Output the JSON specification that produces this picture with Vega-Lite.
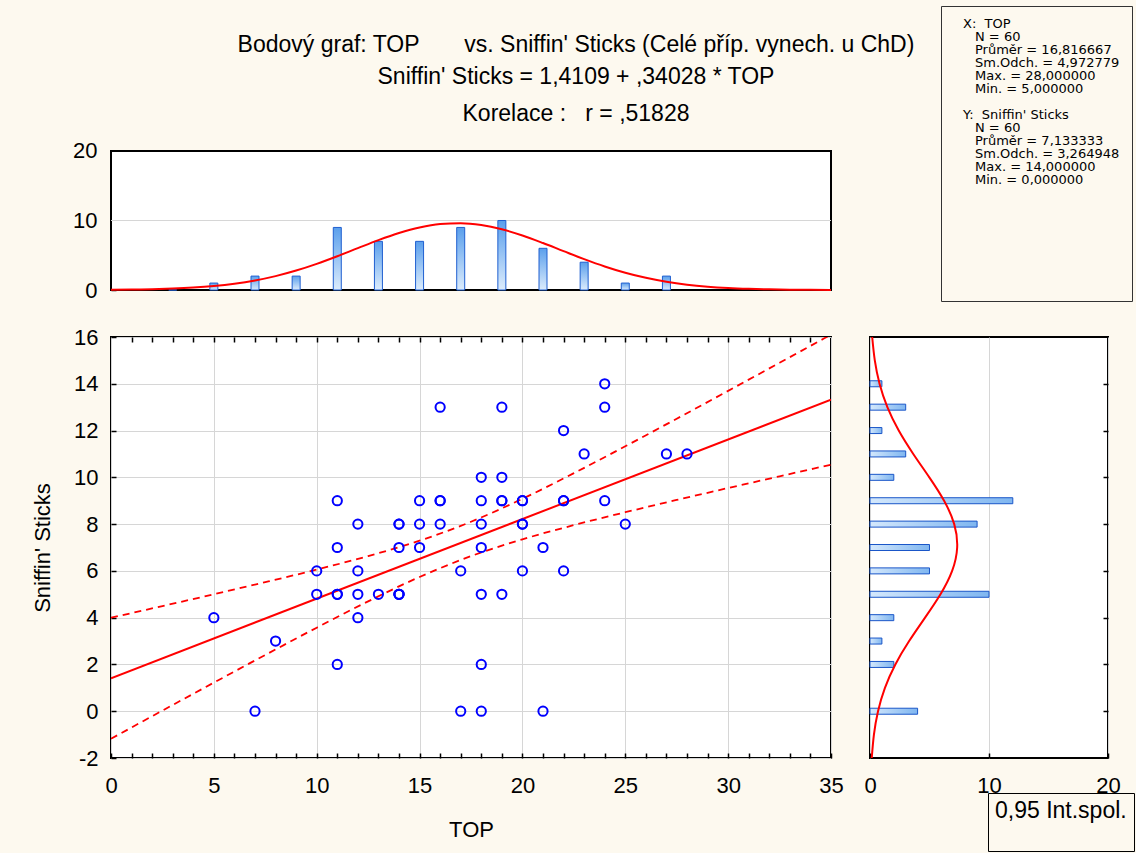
{
  "$schema": "https://vega.github.io/schema/vega-lite/v6.json",
  "background": "#fdf9ef",
  "padding": {"left": 30, "top": 5, "right": 0, "bottom": 0},
  "config": {
    "font": "Liberation Sans",
    "axis": {
      "labelFont": "Liberation Sans", "labelFontSize": 22, "labelColor": "#000", "labelFlush": false,
      "titleFont": "Liberation Sans", "titleFontSize": 22, "titleFontWeight": "normal", "titleColor": "#000",
      "domainColor": "#000", "domainWidth": 2, "tickColor": "#000", "tickWidth": 1.5,
      "gridColor": "#d6d6d6", "gridWidth": 1
    },
    "view": {"fill": "white", "stroke": "#000", "strokeWidth": 2},
    "legend": {"labelFont": "Liberation Sans"}
  },
  "datasets": {
    "points": [
      {"TOP": 5, "Sniffin": 4}, {"TOP": 7, "Sniffin": 0}, {"TOP": 8, "Sniffin": 3},
      {"TOP": 10, "Sniffin": 6}, {"TOP": 10, "Sniffin": 5},
      {"TOP": 11, "Sniffin": 9}, {"TOP": 11, "Sniffin": 7}, {"TOP": 11, "Sniffin": 5}, {"TOP": 11, "Sniffin": 5}, {"TOP": 11, "Sniffin": 2},
      {"TOP": 12, "Sniffin": 8}, {"TOP": 12, "Sniffin": 6}, {"TOP": 12, "Sniffin": 5}, {"TOP": 12, "Sniffin": 4},
      {"TOP": 13, "Sniffin": 5},
      {"TOP": 14, "Sniffin": 8}, {"TOP": 14, "Sniffin": 8}, {"TOP": 14, "Sniffin": 7}, {"TOP": 14, "Sniffin": 5}, {"TOP": 14, "Sniffin": 5}, {"TOP": 14, "Sniffin": 5},
      {"TOP": 15, "Sniffin": 9}, {"TOP": 15, "Sniffin": 8}, {"TOP": 15, "Sniffin": 7},
      {"TOP": 16, "Sniffin": 13}, {"TOP": 16, "Sniffin": 9}, {"TOP": 16, "Sniffin": 9}, {"TOP": 16, "Sniffin": 8},
      {"TOP": 17, "Sniffin": 6}, {"TOP": 17, "Sniffin": 0},
      {"TOP": 18, "Sniffin": 10}, {"TOP": 18, "Sniffin": 9}, {"TOP": 18, "Sniffin": 8}, {"TOP": 18, "Sniffin": 7}, {"TOP": 18, "Sniffin": 5}, {"TOP": 18, "Sniffin": 2}, {"TOP": 18, "Sniffin": 0},
      {"TOP": 19, "Sniffin": 13}, {"TOP": 19, "Sniffin": 10}, {"TOP": 19, "Sniffin": 9}, {"TOP": 19, "Sniffin": 9}, {"TOP": 19, "Sniffin": 5},
      {"TOP": 20, "Sniffin": 9}, {"TOP": 20, "Sniffin": 9}, {"TOP": 20, "Sniffin": 8}, {"TOP": 20, "Sniffin": 8}, {"TOP": 20, "Sniffin": 6},
      {"TOP": 21, "Sniffin": 7}, {"TOP": 21, "Sniffin": 0},
      {"TOP": 22, "Sniffin": 12}, {"TOP": 22, "Sniffin": 9}, {"TOP": 22, "Sniffin": 9}, {"TOP": 22, "Sniffin": 6},
      {"TOP": 23, "Sniffin": 11},
      {"TOP": 24, "Sniffin": 14}, {"TOP": 24, "Sniffin": 13}, {"TOP": 24, "Sniffin": 9},
      {"TOP": 25, "Sniffin": 8}, {"TOP": 27, "Sniffin": 11}, {"TOP": 28, "Sniffin": 11}
    ],
    "ci": [
      {"TOP": 0, "bound": "upper", "val": 3.997}, {"TOP": 2.5, "bound": "upper", "val": 4.496}, {"TOP": 5, "bound": "upper", "val": 5.002},
      {"TOP": 7.5, "bound": "upper", "val": 5.519}, {"TOP": 10, "bound": "upper", "val": 6.055}, {"TOP": 12.5, "bound": "upper", "val": 6.632},
      {"TOP": 15, "bound": "upper", "val": 7.291}, {"TOP": 17.5, "bound": "upper", "val": 8.101}, {"TOP": 20, "bound": "upper", "val": 9.083},
      {"TOP": 22.5, "bound": "upper", "val": 10.178}, {"TOP": 25, "bound": "upper", "val": 11.328}, {"TOP": 27.5, "bound": "upper", "val": 12.505},
      {"TOP": 30, "bound": "upper", "val": 13.697}, {"TOP": 32.5, "bound": "upper", "val": 14.896}, {"TOP": 35, "bound": "upper", "val": 16.101},
      {"TOP": 0, "bound": "lower", "val": -1.176}, {"TOP": 2.5, "bound": "lower", "val": 0.027}, {"TOP": 5, "bound": "lower", "val": 1.223},
      {"TOP": 7.5, "bound": "lower", "val": 2.407}, {"TOP": 10, "bound": "lower", "val": 3.572}, {"TOP": 12.5, "bound": "lower", "val": 4.697},
      {"TOP": 15, "bound": "lower", "val": 5.740}, {"TOP": 17.5, "bound": "lower", "val": 6.631}, {"TOP": 20, "bound": "lower", "val": 7.350},
      {"TOP": 22.5, "bound": "lower", "val": 7.957}, {"TOP": 25, "bound": "lower", "val": 8.508}, {"TOP": 27.5, "bound": "lower", "val": 9.032},
      {"TOP": 30, "bound": "lower", "val": 9.542}, {"TOP": 32.5, "bound": "lower", "val": 10.044}, {"TOP": 35, "bound": "lower", "val": 10.540}
    ],
    "topHist": [
      {"TOP": 3, "count": 0}, {"TOP": 5, "count": 1}, {"TOP": 7, "count": 2}, {"TOP": 9, "count": 2},
      {"TOP": 11, "count": 9}, {"TOP": 13, "count": 7}, {"TOP": 15, "count": 7}, {"TOP": 17, "count": 9},
      {"TOP": 19, "count": 10}, {"TOP": 21, "count": 6}, {"TOP": 23, "count": 4}, {"TOP": 25, "count": 1}, {"TOP": 27, "count": 2}
    ],
    "topCurve": [
      {"TOP": 0, "dens": 0.032}, {"TOP": 1, "dens": 0.061}, {"TOP": 2, "dens": 0.114}, {"TOP": 3, "dens": 0.203},
      {"TOP": 4, "dens": 0.348}, {"TOP": 5, "dens": 0.572}, {"TOP": 6, "dens": 0.904}, {"TOP": 7, "dens": 1.372},
      {"TOP": 8, "dens": 2.0}, {"TOP": 9, "dens": 2.799}, {"TOP": 10, "dens": 3.763}, {"TOP": 11, "dens": 4.858},
      {"TOP": 12, "dens": 6.023}, {"TOP": 13, "dens": 7.172}, {"TOP": 14, "dens": 8.201}, {"TOP": 15, "dens": 9.006},
      {"TOP": 16, "dens": 9.498}, {"TOP": 17, "dens": 9.62}, {"TOP": 18, "dens": 9.358}, {"TOP": 19, "dens": 8.742},
      {"TOP": 20, "dens": 7.843}, {"TOP": 21, "dens": 6.757}, {"TOP": 22, "dens": 5.592}, {"TOP": 23, "dens": 4.444},
      {"TOP": 24, "dens": 3.391}, {"TOP": 25, "dens": 2.485}, {"TOP": 26, "dens": 1.749}, {"TOP": 27, "dens": 1.182},
      {"TOP": 28, "dens": 0.767}, {"TOP": 29, "dens": 0.479}, {"TOP": 30, "dens": 0.287}, {"TOP": 31, "dens": 0.165},
      {"TOP": 32, "dens": 0.091}, {"TOP": 33, "dens": 0.048}, {"TOP": 34, "dens": 0.025}, {"TOP": 35, "dens": 0.012}
    ],
    "rightHist": [
      {"Sniffin": 0, "count": 4}, {"Sniffin": 2, "count": 2}, {"Sniffin": 3, "count": 1}, {"Sniffin": 4, "count": 2},
      {"Sniffin": 5, "count": 10}, {"Sniffin": 6, "count": 5}, {"Sniffin": 7, "count": 5}, {"Sniffin": 8, "count": 9},
      {"Sniffin": 9, "count": 12}, {"Sniffin": 10, "count": 2}, {"Sniffin": 11, "count": 3}, {"Sniffin": 12, "count": 1},
      {"Sniffin": 13, "count": 3}, {"Sniffin": 14, "count": 1}
    ],
    "rightCurve": [
      {"Sniffin": -2, "dens": 0.147}, {"Sniffin": -1, "dens": 0.33}, {"Sniffin": 0, "dens": 0.674}, {"Sniffin": 1, "dens": 1.256},
      {"Sniffin": 2, "dens": 2.13}, {"Sniffin": 3, "dens": 3.29}, {"Sniffin": 4, "dens": 4.626}, {"Sniffin": 5, "dens": 5.922},
      {"Sniffin": 6, "dens": 6.902}, {"Sniffin": 7, "dens": 7.325}, {"Sniffin": 8, "dens": 7.077}, {"Sniffin": 9, "dens": 6.226},
      {"Sniffin": 10, "dens": 4.986}, {"Sniffin": 11, "dens": 3.636}, {"Sniffin": 12, "dens": 2.414}, {"Sniffin": 13, "dens": 1.459},
      {"Sniffin": 14, "dens": 0.803}, {"Sniffin": 15, "dens": 0.403}, {"Sniffin": 16, "dens": 0.184}
    ],
    "stats": [
      {"row": 0, "level": 0, "text": "X:\u00a0\u00a0TOP"},
      {"row": 1, "level": 1, "text": "N = 60"},
      {"row": 2, "level": 1, "text": "Průměr = 16,816667"},
      {"row": 3, "level": 1, "text": "Sm.Odch. = 4,972779"},
      {"row": 4, "level": 1, "text": "Max. = 28,000000"},
      {"row": 5, "level": 1, "text": "Min. = 5,000000"},
      {"row": 7, "level": 0, "text": "Y:\u00a0\u00a0Sniffin' Sticks"},
      {"row": 8, "level": 1, "text": "N = 60"},
      {"row": 9, "level": 1, "text": "Průměr = 7,133333"},
      {"row": 10, "level": 1, "text": "Sm.Odch. = 3,264948"},
      {"row": 11, "level": 1, "text": "Max. = 14,000000"},
      {"row": 12, "level": 1, "text": "Min. = 0,000000"}
    ]
  },
  "bounds": "flush",
  "spacing": 331,
  "resolve": {"scale": {"strokeDash": "independent"}, "legend": {"strokeDash": "independent"}},
  "vconcat": [
    {
      "bounds": "flush",
      "spacing": 110,
      "hconcat": [
        {
          "width": 720, "height": 284,
          "view": {"stroke": null, "fill": null},
          "title": {
            "text": ["Bodový graf: TOP\u00a0\u00a0\u00a0\u00a0\u00a0\u00a0\u00a0vs. Sniffin' Sticks (Celé příp. vynech. u ChD)", "Sniffin' Sticks = 1,4109 + ,34028 * TOP"],
            "subtitle": "Korelace :\u00a0\u00a0\u00a0r = ,51828",
            "font": "Liberation Sans", "fontSize": 23, "fontWeight": "normal", "color": "#000",
            "subtitleFont": "Liberation Sans", "subtitleFontSize": 23, "subtitleColor": "#000",
            "lineHeight": 32, "subtitlePadding": 14,
            "anchor": "middle", "frame": "group", "dx": 105, "offset": -120
          },
          "layer": [
            {
              "data": {"values": [{}]},
              "mark": {"type": "rect", "fill": "white", "stroke": "#000", "strokeWidth": 2},
              "encoding": {
                "x": {"datum": 0, "type": "quantitative", "scale": {"domain": [0, 35], "nice": false, "padding": 0},
                  "axis": {"title": null, "labels": false, "grid": false, "values": [5, 10, 15, 20, 25, 30], "tickSize": -5, "domain": false}},
                "x2": {"datum": 35},
                "y": {"datum": 0, "type": "quantitative", "scale": {"domain": [0, 40.863], "nice": false, "padding": 0},
                  "axis": {"title": null, "values": [0, 10, 20], "grid": false, "tickSize": -5, "labelPadding": 19, "domain": false}},
                "y2": {"datum": 20}
              }
            },
            {
              "data": {"values": [{}]},
              "mark": {"type": "rule", "color": "#d6d6d6", "strokeWidth": 1},
              "encoding": {
                "y": {"datum": 10, "type": "quantitative"},
                "x": {"datum": 0, "type": "quantitative"},
                "x2": {"datum": 35}
              }
            },
            {
              "data": {"name": "topHist"},
              "mark": {
                "type": "bar", "size": 8, "stroke": "#1f5fd0", "strokeWidth": 1,
                "color": {"gradient": "linear", "x1": 0, "y1": 0, "x2": 0, "y2": 1,
                  "stops": [{"offset": 0, "color": "#5a9fec"}, {"offset": 1, "color": "#dcecfc"}]}
              },
              "encoding": {
                "x": {"field": "TOP", "type": "quantitative"},
                "y": {"field": "count", "type": "quantitative"}
              }
            },
            {
              "data": {"name": "topCurve"},
              "mark": {"type": "line", "color": "#ff0000", "strokeWidth": 2, "interpolate": "monotone"},
              "encoding": {
                "x": {"field": "TOP", "type": "quantitative"},
                "y": {"field": "dens", "type": "quantitative"}
              }
            }
          ]
        },
        {
          "width": 191, "height": 295,
          "view": {"fill": "#fdf9ef", "stroke": "#333", "strokeWidth": 1},
          "data": {"name": "stats"},
          "mark": {"type": "text", "align": "left", "baseline": "middle", "fontSize": 13, "font": "DejaVu Sans", "color": "#000"},
          "encoding": {
            "x": {"field": "level", "type": "quantitative", "scale": {"domain": [0, 1], "range": [22, 34]}, "axis": null},
            "y": {"field": "row", "type": "quantitative", "scale": {"domain": [0, 12], "range": [18, 174]}, "axis": null},
            "text": {"field": "text"}
          }
        }
      ]
    },
    {
      "bounds": "flush",
      "spacing": 39,
      "resolve": {"scale": {"strokeDash": "independent"}, "legend": {"strokeDash": "independent"}},
      "hconcat": [
        {
          "width": 720, "height": 421,
          "resolve": {"axis": {"x": "independent"}},
          "layer": [
            {
              "data": {"name": "ci"},
              "mark": {"type": "line", "color": "#ff0000", "strokeWidth": 1.8, "clip": true, "interpolate": "monotone"},
              "encoding": {
                "x": {"field": "TOP", "type": "quantitative", "scale": {"domain": [0, 35], "nice": false},
                  "axis": {"orient": "bottom", "title": "TOP", "values": [0, 1, 2, 3, 4, 5, 6, 7, 8, 9, 10, 11, 12, 13, 14, 15, 16, 17, 18, 19, 20, 21, 22, 23, 24, 25, 26, 27, 28, 29, 30, 31, 32, 33, 34, 35],
                    "labelExpr": "datum.value % 5 === 0 ? datum.label : ''",
                    "grid": true, "gridOpacity": {"condition": {"test": "datum.value % 5 === 0", "value": 1}, "value": 0},
                    "tickSize": -5, "labelPadding": 22, "titleY": 71, "titleBaseline": "middle", "domain": false}},
                "y": {"field": "val", "type": "quantitative", "scale": {"domain": [-2, 16], "nice": false},
                  "axis": {"title": "Sniffin' Sticks", "values": [-2, -1, 0, 1, 2, 3, 4, 5, 6, 7, 8, 9, 10, 11, 12, 13, 14, 15, 16],
                    "grid": true, "gridOpacity": {"condition": {"test": "datum.value % 2 === 0", "value": 1}, "value": 0},
                    "tickSize": -5, "labelPadding": 18, "titleX": -69, "titleBaseline": "middle", "domain": false,
                    "labelExpr": "datum.value % 2 !== 0 ? '' : (datum.value < 0 ? '-' + abs(datum.value) : datum.label)"}},
                "detail": {"field": "bound"},
                "strokeDash": {"datum": "0,95 Int.spol.", "scale": {"domain": ["0,95 Int.spol."], "range": [[7, 5]]},
                  "legend": {"title": "0,95 Int.spol.", "titleFont": "Liberation Sans", "titleFontSize": 23, "titleFontWeight": "normal", "titleColor": "#000", "titlePadding": 0,
                    "orient": "none", "legendX": 877, "legendY": 456, "labelExpr": "''",
                    "symbolType": "square", "symbolOpacity": 0, "symbolSize": 400, "padding": 7, "strokeColor": "#000", "fillColor": "#fdf9ef"}}
              }
            },
            {
              "data": {"name": "points"},
              "transform": [{"regression": "Sniffin", "on": "TOP", "extent": [0, 35]}],
              "mark": {"type": "line", "color": "#ff0000", "strokeWidth": 2, "clip": true},
              "encoding": {
                "x": {"field": "TOP", "type": "quantitative",
                  "axis": {"orient": "top", "title": null, "labels": false, "grid": false, "domain": false, "tickSize": -5,
                    "values": [1, 2, 3, 4, 5, 6, 7, 8, 9, 10, 11, 12, 13, 14, 15, 16, 17, 18, 19, 20, 21, 22, 23, 24, 25, 26, 27, 28, 29, 30, 31, 32, 33, 34]}},
                "y": {"field": "Sniffin", "type": "quantitative"}
              }
            },
            {
              "data": {"name": "points"},
              "mark": {"type": "point", "shape": "circle", "filled": false, "color": "#0000ff", "strokeWidth": 2, "size": 85, "opacity": 1},
              "encoding": {
                "x": {"field": "TOP", "type": "quantitative", "axis": null},
                "y": {"field": "Sniffin", "type": "quantitative"}
              }
            }
          ]
        },
        {
          "width": 238, "height": 421,
          "layer": [
            {
              "data": {"name": "rightHist"},
              "mark": {"type": "bar", "orient": "horizontal", "size": 6, "stroke": "#1a56c8", "strokeWidth": 1,
                "color": {"gradient": "linear", "x1": 0, "y1": 0, "x2": 1, "y2": 0,
                  "stops": [{"offset": 0, "color": "#d4e8fc"}, {"offset": 1, "color": "#7fb6f0"}]}},
              "encoding": {
                "y": {"field": "Sniffin", "type": "quantitative", "scale": {"domain": [-2, 16], "nice": false, "padding": 0},
                  "axis": {"title": null, "orient": "right", "labels": false, "grid": false, "values": [0, 2, 4, 6, 8, 10, 12, 14], "tickSize": -5, "domain": false}},
                "x": {"field": "count", "type": "quantitative", "scale": {"domain": [0, 20], "nice": false, "padding": 0},
                  "axis": {"title": null, "values": [0, 10, 20], "grid": true, "tickSize": -5, "labelPadding": 22, "domain": false}}
              }
            },
            {
              "data": {"name": "rightCurve"},
              "mark": {"type": "line", "color": "#ff0000", "strokeWidth": 2, "interpolate": "natural", "clip": true},
              "encoding": {
                "y": {"field": "Sniffin", "type": "quantitative"},
                "x": {"field": "dens", "type": "quantitative"},
                "order": {"field": "Sniffin", "type": "quantitative"}
              }
            }
          ]
        }
      ]
    }
  ]
}
